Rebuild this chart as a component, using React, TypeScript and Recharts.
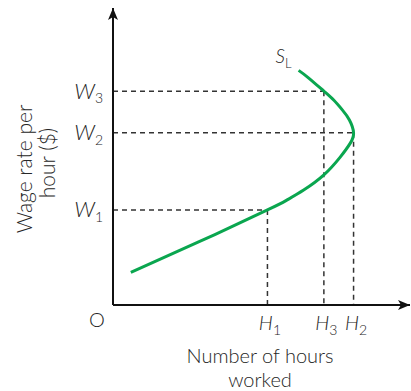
import React from 'react'
import {
  LineChart,
  Line,
  XAxis,
  YAxis,
  ReferenceLine,
  ReferenceDot,
} from 'recharts'

// supply curve S_L (hours worked vs wage rate)
const hours = [6, 29, 52, 58.5, 64.2, 71, 76.5, 79.9, 81, 79.6, 77.2, 74.3, 71, 65.8, 62.5]
const wages = [11, 21.3, 32, 35.3, 38.7, 43.8, 49.8, 54.5, 58, 62.3, 65.7, 69, 72, 76.5, 79]

// marked wage levels and the hours they give
const wageMarks = [32, 58, 72]
const wageSubs = ['1', '2', '3']
const hourMarks = [52, 81, 71]
const hourSubs = ['1', '2', '3']

const data = hours.map((h, i) => ({ h, w: wages[i] }))

const GREEN = '#0aa64f'
const TEXT = '#262626'
const FONT = 'Lato, sans-serif'

function WTick(props: any) {
  const { x, y, payload } = props
  const i = wageMarks.indexOf(payload.value)
  return (
    <text x={x} y={y} textAnchor="end" fill={TEXT} fontFamily={FONT} fontWeight={300}>
      <tspan fontStyle="italic" fontSize={22} dy={7.5}>W</tspan>
      <tspan fontSize={14} dy={4.5}>{wageSubs[i]}</tspan>
    </text>
  )
}

function HTick(props: any) {
  const { x, y, payload } = props
  if (payload.value === 0) {
    return (
      <text x={x - 16} y={y + 22} textAnchor="middle" fill={TEXT} fontFamily={FONT} fontWeight={300} fontSize={20}>
        O
      </text>
    )
  }
  const i = hourMarks.indexOf(payload.value)
  return (
    <text x={x + 2.5} y={y} textAnchor="middle" fill={TEXT} fontFamily={FONT} fontWeight={300}>
      <tspan fontStyle="italic" fontSize={20} dy={25}>H</tspan>
      <tspan fontSize={14} dy={5}>{hourSubs[i]}</tspan>
    </text>
  )
}

const yTitle = () => (
  <g fill={TEXT} fontFamily={FONT} fontWeight={300} fontSize={21}>
    <text x={32} y={169} textAnchor="middle" transform="rotate(-90 32 169)">
      Wage rate per
    </text>
    <text x={55} y={163} textAnchor="middle" transform="rotate(-90 55 163)">
      hour ($)
    </text>
  </g>
)

const xTitle = () => (
  <g fill={TEXT} fontFamily={FONT} fontWeight={300} fontSize={20}>
    <text x={260} y={363} textAnchor="middle">Number of hours</text>
    <text x={260} y={387} textAnchor="middle">worked</text>
  </g>
)

const slLabel = (props: any) => {
  const { x, y } = props.viewBox
  return (
    <text x={x - 7} y={y - 7} textAnchor="end" fill={TEXT} fontFamily={FONT} fontWeight={300}>
      <tspan fontStyle="italic" fontSize={19}>S</tspan>
      <tspan fontSize={13} dy={5}>L</tspan>
    </text>
  )
}

const dash = { stroke: '#333', strokeWidth: 1.5, strokeDasharray: '5 4' }

export default function App() {
  const last = data.length - 1
  return (
    <div style={{ position: 'absolute', left: 0, top: 0 }}>
      <svg width={0} height={0} style={{ position: 'absolute' }}>
        <defs>
          <marker
            id="arrow"
            viewBox="0 0 12 10"
            refX={12}
            refY={5}
            markerWidth={12}
            markerHeight={10}
            markerUnits="userSpaceOnUse"
            orient="auto-start-reverse"
          >
            <path d="M0,0 L12,5 L0,10 L3,5 z" fill="#111" />
          </marker>
        </defs>
      </svg>
      <LineChart
        width={411}
        height={391}
        data={data}
        margin={{ top: 8, right: 1, bottom: 0, left: 0 }}
      >
        <XAxis
          type="number"
          dataKey="h"
          domain={[0, 100]}
          allowDataOverflow
          ticks={[0, ...hourMarks]}
          interval={0}
          tick={<HTick />}
          tickLine={false}
          tickSize={0}
          tickMargin={0}
          height={86}
          axisLine={{ stroke: '#111', strokeWidth: 2, markerEnd: 'url(#arrow)' }}
          label={{ content: xTitle }}
        />
        <YAxis
          type="number"
          dataKey="w"
          domain={[0, 100]}
          allowDataOverflow
          ticks={wageMarks}
          interval={0}
          tick={<WTick />}
          tickLine={false}
          tickSize={0}
          tickMargin={10}
          width={113}
          axisLine={{ stroke: '#111', strokeWidth: 2, markerStart: 'url(#arrow)' }}
          label={{ content: yTitle }}
        />
        {wageMarks.map((w, i) => (
          <ReferenceLine
            key={'hw' + i}
            segment={[{ x: 0, y: w }, { x: hourMarks[i], y: w }]}
            {...dash}
          />
        ))}
        {wageMarks.map((w, i) => (
          <ReferenceLine
            key={'vh' + i}
            segment={[{ x: hourMarks[i], y: w }, { x: hourMarks[i], y: 0 }]}
            {...dash}
          />
        ))}
        <Line
          type="natural"
          dataKey="w"
          stroke={GREEN}
          strokeWidth={3}
          dot={false}
          activeDot={false}
          isAnimationActive={false}
        />
        <ReferenceDot
          x={data[last].h}
          y={data[last].w}
          r={0}
          fill="none"
          stroke="none"
          label={{ content: slLabel }}
        />
      </LineChart>
    </div>
  )
}
